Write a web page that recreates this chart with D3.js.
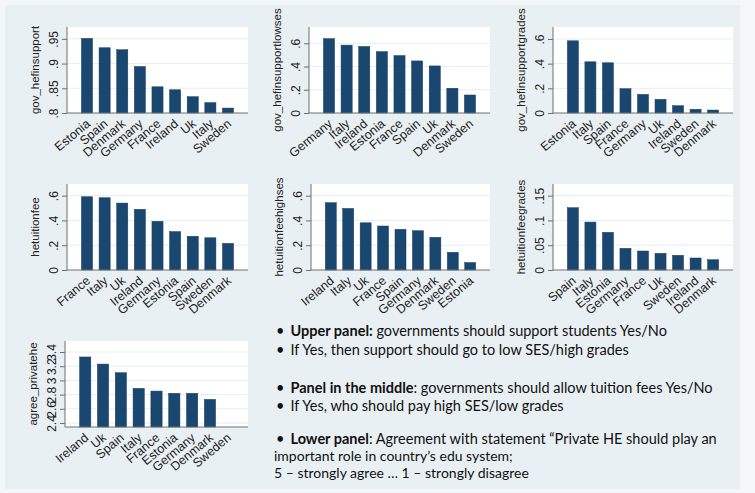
<!DOCTYPE html>
<html>
<head>
<meta charset="utf-8">
<script src="https://cdn.jsdelivr.net/npm/d3@7"></script>
<style>
  body { margin: 0; background: #f4f7f9; }
  svg { display: block; }
</style>
</head>
<body>
<div id="chart"></div>
<script>
// upper panel
var countries1 = ["Estonia", "Spain", "Denmark", "Germany", "France", "Ireland", "Uk", "Italy", "Sweden"];
var values1 = [0.951, 0.932, 0.928, 0.894, 0.853, 0.847, 0.833, 0.821, 0.810];
var ticks1 = [0.8, 0.85, 0.9, 0.95];
var tickLabels1 = [".8", ".85", ".9", ".95"];

var countries2 = ["Germany", "Italy", "Ireland", "Estonia", "France", "Spain", "Uk", "Denmark", "Sweden"];
var values2 = [0.640, 0.584, 0.572, 0.528, 0.494, 0.448, 0.405, 0.213, 0.155];
var ticks2 = [0, 0.2, 0.4, 0.6];
var tickLabels2 = ["0", ".2", ".4", ".6"];

var countries3 = ["Estonia", "Italy", "Spain", "France", "Germany", "Uk", "Ireland", "Sweden", "Denmark"];
var values3 = [0.585, 0.415, 0.407, 0.197, 0.151, 0.111, 0.059, 0.030, 0.024];
var ticks3 = [0, 0.2, 0.4, 0.6];
var tickLabels3 = ["0", ".2", ".4", ".6"];

// middle panel
var countries4 = ["France", "Italy", "Uk", "Ireland", "Germany", "Estonia", "Spain", "Sweden", "Denmark"];
var values4 = [0.591, 0.583, 0.540, 0.490, 0.393, 0.310, 0.272, 0.260, 0.215];
var ticks4 = [0, 0.2, 0.4, 0.6];
var tickLabels4 = ["0", ".2", ".4", ".6"];

var countries5 = ["Ireland", "Italy", "Uk", "France", "Spain", "Germany", "Denmark", "Sweden", "Estonia"];
var values5 = [0.543, 0.497, 0.381, 0.355, 0.328, 0.317, 0.264, 0.143, 0.060];
var ticks5 = [0, 0.2, 0.4, 0.6];
var tickLabels5 = ["0", ".2", ".4", ".6"];

var countries6 = ["Spain", "Italy", "Estonia", "Germany", "France", "Uk", "Sweden", "Ireland", "Denmark"];
var values6 = [0.1256, 0.0967, 0.0760, 0.0437, 0.0383, 0.0336, 0.0296, 0.0242, 0.0208];
var ticks6 = [0, 0.05, 0.1, 0.15];
var tickLabels6 = ["0", ".05", ".1", ".15"];

// lower panel
var countries7 = ["Ireland", "Uk", "Spain", "Italy", "France", "Estonia", "Germany", "Denmark", "Sweden"];
var values7 = [3.33, 3.23, 3.108, 2.888, 2.85, 2.818, 2.818, 2.733, 2.344];
var ticks7 = [2.4, 2.6, 2.8, 3, 3.2, 3.4];
var tickLabels7 = ["2.4", "2.6", "2.8", "3", "3.2", "3.4"];

var W = 755, H = 493;
var barColor = "#1a476f";
var fontFam = "Liberation Sans, Arial, sans-serif";

var svg = d3.select("#chart").append("svg")
    .attr("width", W)
    .attr("height", H);

svg.append("rect")
    .attr("width", W).attr("height", H)
    .style("fill", "#f4f7f9");
svg.append("rect")
    .attr("x", 5).attr("y", 5)
    .attr("width", 735).attr("height", 484)
    .style("fill", "#e9f0f3");

function drawPanel(p) {
    var g = svg.append("g").attr("transform", "translate(" + p.left + "," + p.top + ")");
    var w = p.right - p.left;
    var h = p.bottom - p.top;

    var x = d3.scaleBand()
        .domain(p.countries)
        .range([0, w])
        .paddingInner(0.37)
        .paddingOuter(0.82);
    var y = d3.scaleLinear()
        .domain(p.domain)
        .range([h, 0]);

    g.append("rect")
        .attr("width", w).attr("height", h)
        .style("fill", "#fff");

    // grid
    g.selectAll(".grid")
        .data(p.ticks.filter(function(t) { return y(t) < h - 1; }))
        .enter().append("line")
        .attr("x1", 0).attr("x2", w)
        .attr("y1", function(d) { return y(d); })
        .attr("y2", function(d) { return y(d); })
        .style("stroke", "#e6eef1")
        .style("stroke-width", 1);

    var data = p.countries.map(function(c, i) { return { c: c, v: p.values[i] }; });
    g.selectAll(".bar")
        .data(data)
        .enter().append("rect")
        .attr("x", function(d) { return x(d.c); })
        .attr("y", function(d) { return y(d.v); })
        .attr("width", x.bandwidth())
        .attr("height", function(d) { return h - y(d.v); })
        .style("fill", barColor)
        .style("stroke", "#163d60")
        .style("stroke-width", 0.5);

    var yAxis = g.append("g")
        .call(d3.axisLeft(y)
            .tickValues(p.ticks)
            .tickSize(5)
            .tickFormat(function(d, i) { return p.tickLabels[i]; }));
    yAxis.select(".domain").style("stroke", "#6e6e6e").attr("d", "M0," + h + "V0");
    yAxis.selectAll(".tick line").style("stroke", "#6e6e6e");
    yAxis.selectAll(".tick text")
        .attr("x", 0).attr("dy", 0)
        .attr("text-anchor", "middle")
        .attr("transform", "translate(-9.5,0) rotate(-90)")
        .style("font-family", fontFam)
        .style("font-size", "12px")
        .style("fill", "#222");

    var xAxis = g.append("g")
        .attr("transform", "translate(0," + h + ")")
        .call(d3.axisBottom(x).tickSize(0));
    xAxis.select(".domain").style("stroke", "#6e6e6e").attr("d", "M0,0H" + w);
    xAxis.selectAll(".tick text")
        .attr("y", 0).attr("dy", 0)
        .attr("text-anchor", "end")
        .attr("transform", "translate(4,12) rotate(-40)")
        .style("font-family", fontFam)
        .style("font-size", "12.5px")
        .style("fill", "#222");

    g.append("text")
        .attr("transform", "translate(" + (-p.titleOff) + "," + (h / 2) + ") rotate(-90)")
        .attr("text-anchor", "middle")
        .style("font-family", fontFam)
        .style("font-size", "11.5px")
        .style("fill", "#222")
        .text(p.title);
}

drawPanel({ left: 67, right: 248, top: 27, bottom: 113, domain: [0.8, 0.974],
    countries: countries1, values: values1, ticks: ticks1, tickLabels: tickLabels1,
    title: "gov_hefinsupport", titleOff: 28 });
drawPanel({ left: 309, right: 490, top: 27, bottom: 113, domain: [0, 0.74],
    countries: countries2, values: values2, ticks: ticks2, tickLabels: tickLabels2,
    title: "gov_hefinsupportlowses", titleOff: 28 });
drawPanel({ left: 553, right: 733, top: 27, bottom: 113, domain: [0, 0.697],
    countries: countries3, values: values3, ticks: ticks3, tickLabels: tickLabels3,
    title: "gov_hefinsupportgrades", titleOff: 28 });
drawPanel({ left: 67, right: 248, top: 184, bottom: 270, domain: [0, 0.694],
    countries: countries4, values: values4, ticks: ticks4, tickLabels: tickLabels4,
    title: "hetuitionfee", titleOff: 28 });
drawPanel({ left: 311, right: 490, top: 184, bottom: 270, domain: [0, 0.694],
    countries: countries5, values: values5, ticks: ticks5, tickLabels: tickLabels5,
    title: "hetuitionfeehighses", titleOff: 28 });
drawPanel({ left: 553, right: 733, top: 184, bottom: 270, domain: [0, 0.1735],
    countries: countries6, values: values6, ticks: ticks6, tickLabels: tickLabels6,
    title: "hetuitionfeegrades", titleOff: 28 });
drawPanel({ left: 65, right: 248, top: 341, bottom: 427, domain: [2.344, 3.555],
    countries: countries7, values: values7, ticks: ticks7, tickLabels: tickLabels7,
    title: "agree_privatehe", titleOff: 28 });

// notes on the right
var noteFont = "Lato, 'Open Sans', sans-serif";
var notes = [
    { x: 290.5, y: 336, size: 14.5, bullet: 276, parts: [["Upper panel:", true], [" governments should support students Yes/No", false]] },
    { x: 290.5, y: 354.5, size: 14.5, bullet: 276, parts: [["If Yes, then support should go to low SES/high grades", false]] },
    { x: 290.5, y: 392.5, size: 14.5, bullet: 276, parts: [["Panel in the middle", true], [": governments should allow tuition fees Yes/No", false]] },
    { x: 290.5, y: 411, size: 14.5, bullet: 276, parts: [["If Yes, who should pay high SES/low grades", false]] },
    { x: 290.5, y: 443.5, size: 14.5, bullet: 276, parts: [["Lower panel", true], [": Agreement with statement \u201cPrivate HE should play an", false]] },
    { x: 274, y: 460.5, size: 14, bullet: null, parts: [["important role in country\u2019s edu system;", false]] },
    { x: 274, y: 477.5, size: 14, bullet: null, parts: [["5 \u2013 strongly agree \u2026 1 \u2013 strongly disagree", false]] }
];
notes.forEach(function(n) {
    if (n.bullet !== null) {
        svg.append("text")
            .attr("x", n.bullet).attr("y", n.y)
            .style("font-family", noteFont)
            .style("font-size", n.size + "px")
            .style("fill", "#111")
            .text("\u2022");
    }
    var t = svg.append("text")
        .attr("x", n.x).attr("y", n.y)
        .style("font-family", noteFont)
        .style("font-size", n.size + "px")
        .style("fill", "#111");
    n.parts.forEach(function(p) {
        t.append("tspan")
            .style("font-weight", p[1] ? "bold" : "normal")
            .text(p[0]);
    });
});
</script>
</body>
</html>
